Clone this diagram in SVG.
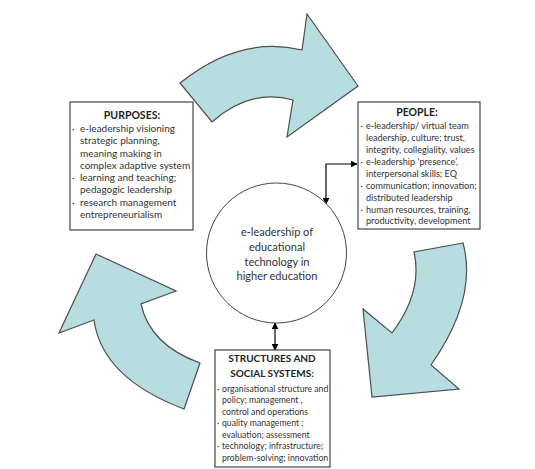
<svg xmlns="http://www.w3.org/2000/svg" width="535" height="469" viewBox="0 0 535 469">
  <style>
    .cycle { fill: #b7dde1; stroke: #4d4d4d; stroke-width: 1.2; stroke-linejoin: miter; }
    .box { fill: #ffffff; stroke: #444444; stroke-width: 1.2; }
    .hub { fill: #ffffff; stroke: #444444; stroke-width: 1; }
    .txt { font-family: "Lato", "Liberation Sans", sans-serif; font-size: 10px; fill: #333333; }
    #people .txt { font-size: 9.1px; }
    #structures .txt { font-size: 8.7px; }
    .ttl { font-family: "Lato", "Liberation Sans", sans-serif; font-size: 10.5px; font-weight: bold; fill: #222222; text-anchor: middle; }
    #structures .ttl { font-size: 10px; }
    .hubtxt { font-family: "Lato", "Liberation Sans", sans-serif; font-size: 11px; fill: #333333; text-anchor: middle; }
    .link { fill: none; stroke: #000000; stroke-width: 1.2; }
  </style>
  <defs>
    <marker id="tip" viewBox="0 0 10 10" refX="9" refY="5" markerWidth="7" markerHeight="7" orient="auto-start-reverse" markerUnits="userSpaceOnUse">
      <path d="M0,0 L10,5 L0,10 Z" fill="#000000"/>
    </marker>
  </defs>
  <rect width="535" height="469" fill="#ffffff"/>

  <!-- curved cycle arrows -->
  <g id="cycle-arrows">
    <path class="cycle" d="M180,83 Q240,35 302,50 L307,14 L358,86 L287,137 L293,100 Q250,88 212,122 Z"/>
    <path class="cycle" d="M463,243 L414,252 Q423,292 392,333 L363,309 L372,397 L459,389 L431,365 Q478,298 463,243 Z"/>
    <path class="cycle" d="M184,409 L200,363 Q150,345 141,304 L176,291 L96,254 L59,333 L94,320 Q102,378 184,409 Z"/>
  </g>

  <!-- connectors -->
  <g id="connectors">
    <path class="link" d="M326,204 L326,164 L357,164" marker-start="url(#tip)" marker-end="url(#tip)"/>
    <path class="link" d="M275,323 L275,350" marker-start="url(#tip)" marker-end="url(#tip)"/>
  </g>

  <!-- central hub -->
  <g id="hub">
    <circle class="hub" cx="276.5" cy="253" r="70"/>
    <text class="hubtxt" x="277" y="236">e-leadership of</text>
    <text class="hubtxt" x="277" y="251">educational</text>
    <text class="hubtxt" x="277" y="266">technology in</text>
    <text class="hubtxt" x="277" y="280">higher education</text>
  </g>

  <!-- purposes -->
  <g id="purposes">
    <rect class="box" x="70" y="102" width="123" height="128"/>
    <text class="ttl" x="132" y="119">PURPOSES:</text>
    <text class="txt" x="72" y="132">·</text>
    <text class="txt" x="80" y="132">e-leadership visioning</text>
    <text class="txt" x="80" y="144">strategic planning,</text>
    <text class="txt" x="80" y="156.5">meaning making in</text>
    <text class="txt" x="80" y="168.7">complex adaptive system</text>
    <text class="txt" x="72" y="181">·</text>
    <text class="txt" x="80" y="181">learning and teaching;</text>
    <text class="txt" x="80" y="193.3">pedagogic leadership</text>
    <text class="txt" x="72" y="205.6">·</text>
    <text class="txt" x="80" y="205.6">research management</text>
    <text class="txt" x="80" y="218">entrepreneurialism</text>
  </g>

  <!-- people -->
  <g id="people">
    <rect class="box" x="358" y="102" width="122" height="127"/>
    <text class="ttl" x="417" y="115.5">PEOPLE:</text>
    <text class="txt" x="360.5" y="129.2">·</text>
    <text class="txt" x="366" y="129.2">e-leadership/ virtual team</text>
    <text class="txt" x="366" y="141.1">leadership, culture; trust,</text>
    <text class="txt" x="366" y="153">integrity, collegiality, values</text>
    <text class="txt" x="360.5" y="164.9">·</text>
    <text class="txt" x="366" y="164.9">e-leadership ‘presence’,</text>
    <text class="txt" x="366" y="176.8">interpersonal skills; EQ</text>
    <text class="txt" x="360.5" y="188.7">·</text>
    <text class="txt" x="366" y="188.7">communication; innovation;</text>
    <text class="txt" x="366" y="200.6">distributed leadership</text>
    <text class="txt" x="360.5" y="212.5">·</text>
    <text class="txt" x="366" y="212.5">human resources, training,</text>
    <text class="txt" x="366" y="224.4">productivity, development</text>
  </g>

  <!-- structures and social systems -->
  <g id="structures">
    <rect class="box" x="215" y="350" width="115" height="117"/>
    <text class="ttl" x="272" y="362">STRUCTURES AND</text>
    <text class="ttl" x="272" y="377">SOCIAL SYSTEMS:</text>
    <text class="txt" x="217" y="391.5">·</text>
    <text class="txt" x="222" y="391.5">organisational structure and</text>
    <text class="txt" x="222" y="403">policy; management ,</text>
    <text class="txt" x="222" y="414.5">control and operations</text>
    <text class="txt" x="217" y="426">·</text>
    <text class="txt" x="222" y="426">quality management ;</text>
    <text class="txt" x="222" y="437.5">evaluation; assessment</text>
    <text class="txt" x="217" y="449">·</text>
    <text class="txt" x="222" y="449">technology; infrastructure;</text>
    <text class="txt" x="222" y="460.5">problem-solving; innovation</text>
  </g>
</svg>
